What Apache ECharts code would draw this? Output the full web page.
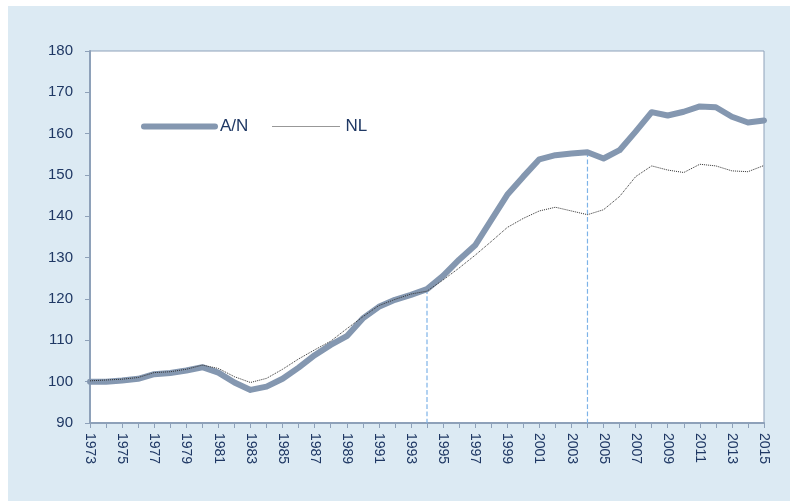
<!DOCTYPE html>
<html>
<head>
<meta charset="utf-8">
<script src="https://cdn.jsdelivr.net/npm/echarts@6/dist/echarts.min.js"></script>
<style>
  html, body { margin: 0; padding: 0; background: #fff; }
  #main { width: 790px; height: 501px; }
</style>
</head>
<body>
<div id="main"></div>
<script>
// jaren 1973 - 2015
var years = [];
for (var y = 1973; y <= 2015; y++) years.push(String(y));

// A/N (dikke lijn)
var anValues = [
  100.0, 100.0, 100.3, 100.7, 101.8, 102.1, 102.7, 103.5, 102.2, 99.8,
  98.0, 98.8, 100.7, 103.4, 106.4, 108.9, 111.0, 115.3, 118.1, 119.8,
  121.0, 122.4, 125.6, 129.5, 133.0, 139.1, 145.2, 149.6, 153.8, 154.8,
  155.2, 155.5, 154.0, 156.0, 160.5, 165.2, 164.4, 165.3, 166.6, 166.4,
  164.1, 162.7, 163.2
];

// NL (gestippelde lijn)
var nlValues = [
  100.2, 100.4, 100.6, 101.0, 102.2, 102.4, 103.0, 104.0, 103.2, 101.2,
  99.8, 100.8, 103.0, 105.5, 107.7, 109.8, 112.8, 115.7, 118.4, 119.9,
  121.2, 121.9, 124.6, 127.5, 130.6, 133.9, 137.3, 139.5, 141.3, 142.2,
  141.3, 140.4, 141.6, 144.8, 149.6, 152.2, 151.2, 150.6, 152.6, 152.2,
  151.0, 150.8, 152.3
];

// jaren met verticale hulplijn
var markYears = ['1994', '2004'];

var navy = '#1f3864';
var axisCol = '#8ea1b9';
var markCol = '#7db3e8';

var myChart = echarts.init(document.getElementById('main'));

// hulplijnen van de A/N-lijn naar de x-as, elk als eigen lijnserie
var helperSeries = markYears.map(function (yr) {
  var i = years.indexOf(yr);
  return {
    name: 'hulp' + yr,
    type: 'line',
    data: [[i, anValues[i]], [i, 90]],
    symbol: 'none',
    silent: true,
    z: 1,
    color: markCol,
    itemStyle: { color: markCol },
    lineStyle: { color: markCol, width: 1.2, type: 'dashed', dashOffset: 0 }
  };
});

var option = {
  backgroundColor: '#fff',
  animation: false,
  graphic: [{
    type: 'rect',
    z: -10,
    silent: true,
    shape: { x: 8, y: 6, width: 782, height: 495 },
    style: { fill: '#dceaf3' }
  }],
  grid: {
    left: 90, right: 26, top: 51, bottom: 78,
    show: true,
    backgroundColor: '#fff',
    borderColor: axisCol,
    borderWidth: 1
  },
  legend: [{
    data: ['A/N'],
    left: 141, top: 118,
    padding: 0,
    itemWidth: 71, itemHeight: 16,
    itemGap: 0,
    itemStyle: { opacity: 0 },
    lineStyle: { width: 6, cap: 'round', color: '#8497b0' },
    textStyle: { color: navy, fontSize: 17, fontFamily: 'Liberation Sans' }
  }, {
    data: ['NL'],
    left: 272, top: 118,
    padding: 0,
    itemWidth: 68, itemHeight: 16,
    itemStyle: { opacity: 0 },
    lineStyle: { width: 1, type: [1, 1], color: '#303030' },
    textStyle: { color: navy, fontSize: 17, fontFamily: 'Liberation Sans' }
  }],
  xAxis: {
    type: 'category',
    data: years,
    boundaryGap: false,
    axisLine: { lineStyle: { color: axisCol, width: 2 } },
    axisTick: { show: true, length: 5, interval: 0, lineStyle: { color: axisCol } },
    axisLabel: {
      interval: 1,
      rotate: -90,
      margin: 10,
      color: navy,
      fontSize: 14,
      fontFamily: 'Liberation Sans'
    },
    splitLine: { show: false }
  },
  yAxis: {
    type: 'value',
    min: 90, max: 180, interval: 10,
    axisLine: { show: true, lineStyle: { color: axisCol, width: 2 } },
    axisTick: { show: true, length: 5, lineStyle: { color: axisCol } },
    axisLabel: { margin: 17, color: navy, fontSize: 15, fontFamily: 'Liberation Sans' },
    splitLine: { show: false }
  },
  series: helperSeries.concat([{
    name: 'A/N',
    type: 'line',
    data: anValues,
    symbol: 'none',
    z: 2,
    color: '#8497b0',
    lineStyle: { width: 6, color: '#8497b0', cap: 'round', join: 'round' }
  }, {
    name: 'NL',
    type: 'line',
    data: nlValues,
    symbol: 'none',
    z: 3,
    color: '#303030',
    lineStyle: { width: 1, type: [1, 1], color: '#303030' }
  }])
};

myChart.setOption(option);
</script>
</body>
</html>
